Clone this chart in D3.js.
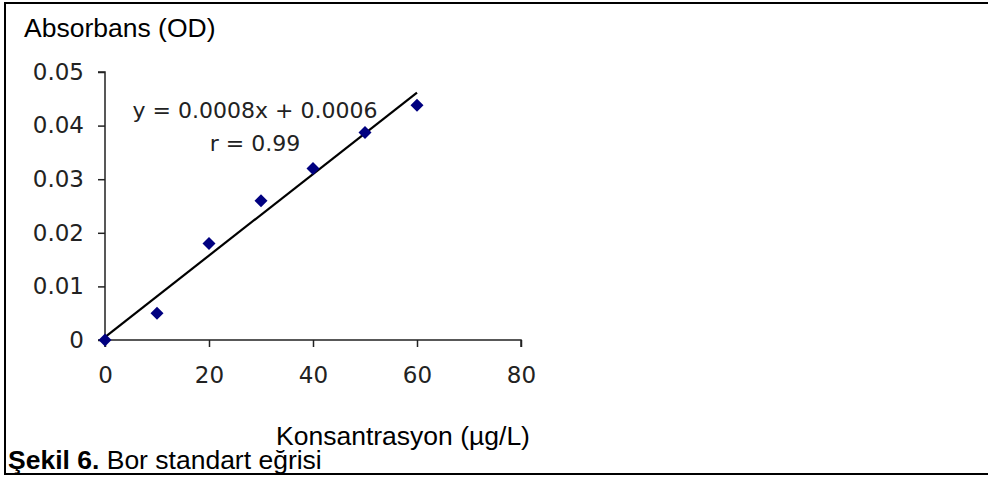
<!DOCTYPE html>
<html>
<head>
<meta charset="utf-8">
<script src="https://cdn.jsdelivr.net/npm/d3@7"></script>
<style>
  body { margin: 0; background: #fff; }
  svg { display: block; }
</style>
</head>
<body>
<svg id="chart"></svg>
<script>
// Data
const concentrations = [0, 10, 20, 30, 40, 50, 60]
const absorbances = [0, 0.005, 0.018, 0.026, 0.032, 0.0387, 0.0438]
const xTicks = [0, 20, 40, 60, 80]
const yTicks = [0, 0.01, 0.02, 0.03, 0.04, 0.05]
const equationLines = ['y = 0.0008x + 0.0006', 'r = 0.99']

const width = 988
const height = 477
const plot = { left: 105, right: 521, top: 72, bottom: 340 }

const svg = d3.select('#chart')
  .attr('width', width)
  .attr('height', height)

// frame (left, top, bottom only)
svg.append('path')
  .attr('d', `M${width},3 H5 V474 H${width}`)
  .attr('fill', 'none')
  .attr('stroke', '#000')
  .attr('stroke-width', 2)

const x = d3.scaleLinear().domain([0, 80]).range([plot.left, plot.right])
const y = d3.scaleLinear().domain([0, 0.05]).range([plot.bottom, plot.top])

const tickFont = '"DejaVu Sans", sans-serif'

// y axis
const yAxis = svg.append('g')
  .attr('transform', `translate(${plot.left},0)`)
  .call(d3.axisLeft(y).tickValues(yTicks).tickSize(7).tickPadding(14)
    .tickFormat(d => d === 0 ? '0' : d3.format('.2f')(d)))
yAxis.selectAll('text')
  .attr('font-family', tickFont)
  .attr('font-size', 23)
  .attr('fill', '#222')

// x axis
const xAxis = svg.append('g')
  .attr('transform', `translate(0,${plot.bottom})`)
  .call(d3.axisBottom(x).tickValues(xTicks).tickSize(7).tickPadding(20))
xAxis.selectAll('text')
  .attr('font-family', tickFont)
  .attr('font-size', 23)
  .attr('fill', '#222')

svg.selectAll('.domain, .tick line')
  .attr('stroke', '#222')
  .attr('stroke-width', 1.5)
xAxis.select('.domain').attr('d', `M${plot.left},7 V0 H${plot.right} V7`)
yAxis.select('.domain').attr('d', `M-7,${plot.top} H0 V${plot.bottom} H-7`)

// linear regression trendline
const mx = d3.mean(concentrations)
const my = d3.mean(absorbances)
const sxy = d3.sum(concentrations, (c, i) => (c - mx) * (absorbances[i] - my))
const sxx = d3.sum(concentrations, c => (c - mx) * (c - mx))
const slope = sxy / sxx
const intercept = my - slope * mx
const xExtent = d3.extent(concentrations)

svg.append('line')
  .attr('x1', x(xExtent[0]))
  .attr('y1', y(slope * xExtent[0] + intercept))
  .attr('x2', x(xExtent[1]))
  .attr('y2', y(slope * xExtent[1] + intercept))
  .attr('stroke', '#000')
  .attr('stroke-width', 2.2)

// diamond markers
svg.selectAll('.pt')
  .data(concentrations.map((c, i) => [c, absorbances[i]]))
  .enter()
  .append('path')
  .attr('class', 'pt')
  .attr('d', 'M0,-6.5 L6.5,0 L0,6.5 L-6.5,0 Z')
  .attr('transform', d => `translate(${x(d[0])},${y(d[1])})`)
  .attr('fill', '#000080')

// equation label
svg.append('g')
  .selectAll('text')
  .data(equationLines)
  .enter()
  .append('text')
  .attr('x', 255)
  .attr('y', (d, i) => 118 + i * 33)
  .attr('text-anchor', 'middle')
  .attr('font-family', tickFont)
  .attr('font-size', 22)
  .attr('fill', '#222')
  .text(d => d)

// axis titles
const labelFont = '"Liberation Sans", Arial, sans-serif'
svg.append('text')
  .attr('x', 24)
  .attr('y', 37)
  .attr('font-family', labelFont)
  .attr('font-size', 26.5)
  .text('Absorbans (OD)')

svg.append('text')
  .attr('x', 403)
  .attr('y', 445)
  .attr('text-anchor', 'middle')
  .attr('font-family', labelFont)
  .attr('font-size', 26.5)
  .text('Konsantrasyon (\u00b5g/L)')

// caption
const caption = svg.append('text')
  .attr('x', 8)
  .attr('y', 469)
  .attr('font-family', labelFont)
  .attr('font-size', 26.5)
caption.append('tspan').attr('font-weight', 'bold').text('Şekil 6.')
caption.append('tspan').text(' Bor standart eğrisi')
</script>
</body>
</html>
